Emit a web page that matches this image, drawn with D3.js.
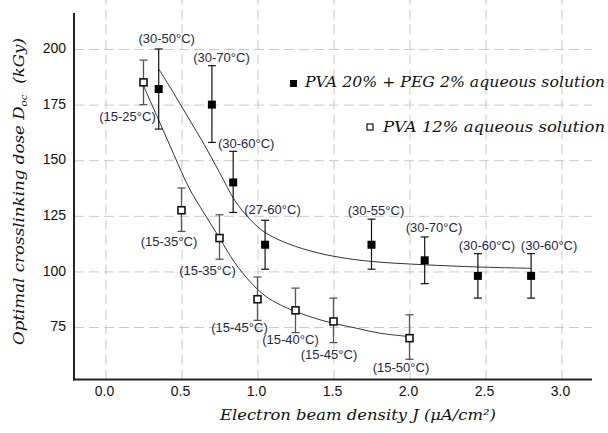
<!DOCTYPE html>
<html><head><meta charset="utf-8">
<script src="https://cdn.jsdelivr.net/npm/d3@7"></script>
<style>body{margin:0;background:#fff}</style>
</head><body><svg id="c" width="608" height="433"></svg>
<script>
// ---- data ----
const xTicks = [0.0, 0.5, 1.0, 1.5, 2.0, 2.5, 3.0];
const yTicks = [75, 100, 125, 150, 175, 200];

const pegJ    = [0.35, 0.70, 0.84, 1.05, 1.75, 2.10, 2.45, 2.80];
const pegD    = [182, 175, 140, 112, 112, 105, 98, 98];
const pegLo   = [164, 158, 126.5, 101, 101, 94.5, 88, 88];
const pegHi   = [200, 192.5, 154, 123, 123.5, 115.5, 108, 108];
const pegTemp = ["(30-50°C)", "(30-70°C)", "(30-60°C)", "(27-60°C)", "(30-55°C)", "(30-70°C)", "(30-60°C)", "(30-60°C)"];

const pvaJ    = [0.25, 0.50, 0.75, 1.00, 1.25, 1.50, 2.00];
const pvaD    = [185, 127.5, 115, 87.5, 82.5, 77.5, 70];
const pvaLo   = [175, 118, 105.5, 78, 72.5, 68, 60.5];
const pvaHi   = [195, 137.5, 125.5, 97.5, 92.5, 88, 80.5];
const pvaTemp = ["(15-25°C)", "(15-35°C)", "(15-35°C)", "(15-45°C)", "(15-40°C)", "(15-45°C)", "(15-50°C)"];

// fitted curves
const pegFitJ = [0.35, 0.45, 0.55, 0.65, 0.75, 0.85, 0.95, 1.05, 1.2, 1.4, 1.6, 1.8, 2.1, 2.45, 2.8];
const pegFitD = [191, 180, 168.5, 157, 144.5, 132, 123.5, 117.5, 112.5, 108.3, 105.7, 104.2, 103, 102, 101.4];
const pvaFitJ = [0.25, 0.35, 0.45, 0.55, 0.65, 0.75, 0.85, 0.95, 1.05, 1.15, 1.25, 1.4, 1.5, 1.65, 1.8, 2.0];
const pvaFitD = [183.5, 168, 152.5, 137.5, 126, 115, 104, 95.5, 89, 85, 82, 78.5, 76.7, 74.5, 72.3, 70.7];

const legendNames = ["PVA 20% + PEG 2% aqueous solution", "PVA 12% aqueous solution"];

// ---- layout (not data) ----
const pegLabelOff = [[8,-46.5],[9.6,-43],[13,-34],[7.4,-30.4],[4.5,-29.7],[9.3,-28.6],[9,-26],[18,-26]];
const pvaLabelOff = [[-16,38.6],[-12.5,36],[-12,37],[-18,33],[-5,34],[-4.5,37.6],[-8.5,34]];

const svg = d3.select("#c");
const x = d3.scaleLinear().domain([-0.2, 3.2]).range([75.1, 591.9]);
const y = d3.scaleLinear().domain([52, 216]).range([378.2, 13.4]);
const L = 74, B = 379.5, R = 592, T = 13;
const gridCol = "#c9c9c9";

// grid
const gx = svg.append("g").attr("transform", `translate(0,${B})`)
  .call(d3.axisBottom(x).tickValues(xTicks).tickSize(-B).tickFormat(""));
gx.select(".domain").remove();
gx.selectAll("line").attr("stroke", gridCol).attr("stroke-dasharray", "10,5");
const gy = svg.append("g").attr("transform", `translate(${L},0)`)
  .call(d3.axisLeft(y).tickValues(yTicks).tickSize(-(R - L)).tickFormat(""));
gy.select(".domain").remove();
gy.selectAll("line").attr("stroke", gridCol).attr("stroke-dasharray", "10,5");

// axis labels
const ax = svg.append("g").attr("transform", `translate(-1.5,${B})`)
  .call(d3.axisBottom(x).tickValues(xTicks).tickSize(0).tickPadding(6.5).tickFormat(d3.format(".1f")));
ax.select(".domain").remove();
ax.selectAll("text").attr("font-family", "Liberation Sans, Arial, sans-serif").attr("font-size", 14).attr("fill", "#111");
const ay = svg.append("g").attr("transform", `translate(${L},0)`)
  .call(d3.axisLeft(y).tickValues(yTicks).tickSize(0).tickPadding(8));
ay.select(".domain").remove();
ay.selectAll("text").attr("font-family", "Liberation Sans, Arial, sans-serif").attr("font-size", 14).attr("fill", "#111").attr("dy", "0.27em");

// axis lines
svg.append("line").attr("x1", L).attr("x2", L).attr("y1", T).attr("y2", B + 1).attr("stroke", "#222").attr("stroke-width", 2);
svg.append("line").attr("x1", L - 1).attr("x2", R).attr("y1", B).attr("y2", B).attr("stroke", "#222").attr("stroke-width", 2);

// fit curves
const line = d3.line().x(d => x(d[0])).y(d => y(d[1])).curve(d3.curveCatmullRom.alpha(0.5));
svg.append("path").attr("d", line(pegFitJ.map((j, i) => [j, pegFitD[i]])))
  .attr("fill", "none").attr("stroke", "#333").attr("stroke-width", 1);
svg.append("path").attr("d", line(pvaFitJ.map((j, i) => [j, pvaFitD[i]])))
  .attr("fill", "none").attr("stroke", "#333").attr("stroke-width", 1);

// error bars
function errBars(J, lo, hi, col, w) {
  const g = svg.append("g").attr("stroke", col).attr("stroke-width", w);
  J.forEach((j, i) => {
    const cx = x(j);
    g.append("line").attr("x1", cx).attr("x2", cx).attr("y1", y(lo[i])).attr("y2", y(hi[i]));
    g.append("line").attr("x1", cx - 4).attr("x2", cx + 4).attr("y1", y(lo[i])).attr("y2", y(lo[i]));
    g.append("line").attr("x1", cx - 4).attr("x2", cx + 4).attr("y1", y(hi[i])).attr("y2", y(hi[i]));
  });
}
errBars(pvaJ, pvaLo, pvaHi, "#555", 1.3);
errBars(pegJ, pegLo, pegHi, "#111", 1.2);

// markers
const s = 8;
svg.append("g").selectAll("rect").data(pvaJ).join("rect")
  .attr("x", (d) => x(d) - s / 2 + 0.5).attr("y", (d, i) => y(pvaD[i]) - s / 2 + 0.5)
  .attr("width", s - 1).attr("height", s - 1).attr("fill", "#fff").attr("stroke", "#111").attr("stroke-width", 1.6);
svg.append("g").selectAll("rect").data(pegJ).join("rect")
  .attr("x", (d) => x(d) - s / 2).attr("y", (d, i) => y(pegD[i]) - s / 2)
  .attr("width", s).attr("height", s).attr("fill", "#000");

// temperature labels
const labCol = "#1c2947";
function labels(J, D, T, off) {
  svg.append("g").selectAll("text").data(J).join("text")
    .attr("x", (d, i) => x(d) + off[i][0]).attr("y", (d, i) => y(D[i]) + off[i][1])
    .attr("text-anchor", "middle").attr("font-family", "Liberation Sans, Arial, sans-serif")
    .attr("font-size", 13).attr("fill", labCol).text((d, i) => T[i]);
}
labels(pegJ, pegD, pegTemp, pegLabelOff);
labels(pvaJ, pvaD, pvaTemp, pvaLabelOff);

// legend
const serif = "DejaVu Serif, serif";
svg.append("rect").attr("x", 290).attr("y", 80).attr("width", 7).attr("height", 7).attr("fill", "#000");
svg.append("text").attr("x", 305).attr("y", 87).attr("font-family", serif).attr("font-style", "italic")
  .attr("font-size", 14.5).attr("textLength", 300).attr("lengthAdjust", "spacingAndGlyphs").attr("fill", "#111").text(legendNames[0]);
svg.append("rect").attr("x", 367).attr("y", 124).attr("width", 6).attr("height", 6).attr("fill", "#fff").attr("stroke", "#111").attr("stroke-width", 1.2);
svg.append("text").attr("x", 383).attr("y", 132).attr("font-family", serif).attr("font-style", "italic")
  .attr("font-size", 14.5).attr("textLength", 222).attr("lengthAdjust", "spacingAndGlyphs").attr("fill", "#111").text(legendNames[1]);

// axis titles
svg.append("text").attr("x", 358).attr("y", 420).attr("text-anchor", "middle")
  .attr("font-family", serif).attr("font-style", "italic").attr("font-size", 14.5).attr("fill", "#111")
  .attr("textLength", 276).attr("lengthAdjust", "spacingAndGlyphs")
  .text("Electron beam density J (μA/cm²)");
const yt = svg.append("text").attr("transform", "translate(24,191.5) rotate(-90)").attr("text-anchor", "middle")
  .attr("font-family", serif).attr("font-style", "italic").attr("font-size", 14.5).attr("fill", "#111")
  .attr("textLength", 307).attr("lengthAdjust", "spacingAndGlyphs");
yt.append("tspan").text("Optimal crosslinking dose D");
yt.append("tspan").attr("font-size", 9).attr("dy", 3).text("oc");
yt.append("tspan").attr("dy", -3).text("\u00a0 (kGy)");
</script></body></html>
